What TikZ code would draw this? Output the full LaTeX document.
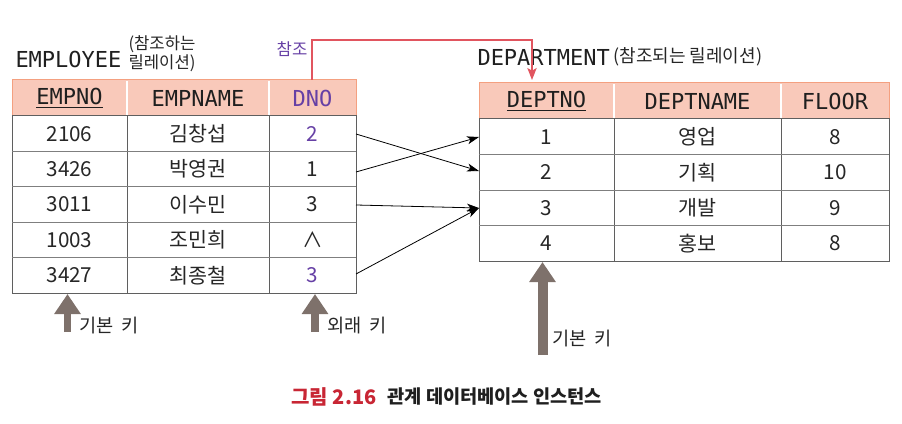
\documentclass[tikz,border=0pt]{standalone}
\usepackage{fontspec}
\setmainfont{Noto Sans CJK KR}
\newfontfamily\codefont{DejaVu Sans Mono}
\usetikzlibrary{arrows.meta}

\definecolor{hdrfill}{RGB}{249,201,186}
\definecolor{hdrline}{RGB}{244,160,128}
\definecolor{keyviolet}{RGB}{102,64,165}
\definecolor{refred}{RGB}{225,85,95}
\definecolor{keygray}{RGB}{126,113,107}
\definecolor{capred}{RGB}{200,38,52}
\definecolor{gridgray}{RGB}{95,95,95}

\tikzset{every picture/.style={line width=0.75pt}}

\begin{document}
\begin{tikzpicture}[x=0.75pt,y=0.75pt,yscale=-1,xscale=1,
  cell/.style={inner sep=0.75pt, font=\fontsize{15.5}{17}\selectfont, text=black!85},
  colhead/.style={inner sep=0.75pt, font=\codefont\fontsize{16.5}{18}\selectfont, text=black!88},
  reltitle/.style={inner sep=0.75pt, font=\codefont\fontsize{16.5}{18}\selectfont, text=black!88},
  note/.style={inner sep=0.75pt, font=\fontsize{12.5}{14}\selectfont, text=black!85},
  keylabel/.style={inner sep=0.75pt, font=\fontsize{14}{16}\selectfont, text=black!85},
  link/.style={-{Stealth[length=9pt,width=6pt,inset=2.5pt]}, line width=0.6pt},
  keyarrow/.style={keygray, line width=5.5pt, -{Triangle[length=15pt,width=19pt]}},
]
\useasboundingbox (0,0) rectangle (902,424);

%Shape: Rectangle [EMPLOYEE header]
\draw [hdrline, fill=hdrfill] (12,80) rectangle (356,116) ;
\draw [white, line width=1.5] (127,81) -- (127,115) (269,81) -- (269,115) ;
%Shape: Rectangle [EMPLOYEE body]
\draw [gridgray] (12,116) rectangle (356,293) ;
\draw [gridgray] (127,116) -- (127,293) (269,116) -- (269,293) ;
\draw [gridgray!80] (12,151.4) -- (356,151.4) (12,186.8) -- (356,186.8) (12,222.2) -- (356,222.2) (12,257.6) -- (356,257.6) ;

%Shape: Rectangle [DEPARTMENT header]
\draw [hdrline, fill=hdrfill] (479,83) rectangle (889,119) ;
\draw [white, line width=1.5] (614,84) -- (614,118) (781,84) -- (781,118) ;
%Shape: Rectangle [DEPARTMENT body]
\draw [gridgray] (479,119) rectangle (889,261) ;
\draw [gridgray] (614,119) -- (614,261) (781,119) -- (781,261) ;
\draw [gridgray!80] (479,154.5) -- (889,154.5) (479,190) -- (889,190) (479,225.5) -- (889,225.5) ;

% Text Node
\draw (14,59) node [anchor=west][reltitle] (emp-title) {EMPLOYEE};
% Text Node
\draw (127,44) node [anchor=west][note] (emp-note1) {(참조하는};
% Text Node
\draw (127,63) node [anchor=west][note] (emp-note2) {릴레이션)};
% Text Node
\draw (476,57) node [anchor=west][reltitle] (dep-title) {DEPARTMENT};
% Text Node
\draw (612,57) node [anchor=west][note, font=\fontsize{13.5}{15}\selectfont] (dep-note) {(참조되는 릴레이션)};
% Text Node
\draw (292,49) node [note, text=keyviolet] (ref-label) {참조};

% Text Node
\draw (69.5,98) node [colhead] (emp-h1) {\underline{EMPNO}};
% Text Node
\draw (198,98) node [colhead] (emp-h2) {EMPNAME};
% Text Node
\draw (312.5,98) node [colhead, text=keyviolet] (emp-h3) {DNO};
% Text Node
\draw (546.5,101) node [colhead] (dep-h1) {\underline{DEPTNO}};
% Text Node
\draw (697.5,101) node [colhead] (dep-h2) {DEPTNAME};
% Text Node
\draw (835,101) node [colhead] (dep-h3) {FLOOR};

% Text Node
\draw (69.5,133.7) node [cell] (emp-1-1) {2106};
\draw (198,133.7) node [cell] (emp-1-2) {김창섭};
\draw (312.5,133.7) node [cell, text=keyviolet] (emp-1-3) {2};
% Text Node
\draw (69.5,169.1) node [cell] (emp-2-1) {3426};
\draw (198,169.1) node [cell] (emp-2-2) {박영권};
\draw (312.5,169.1) node [cell] (emp-2-3) {1};
% Text Node
\draw (69.5,204.5) node [cell] (emp-3-1) {3011};
\draw (198,204.5) node [cell] (emp-3-2) {이수민};
\draw (312.5,204.5) node [cell] (emp-3-3) {3};
% Text Node
\draw (69.5,239.9) node [cell] (emp-4-1) {1003};
\draw (198,239.9) node [cell] (emp-4-2) {조민희};
\draw (312.5,239.9) node [cell] (emp-4-3) {∧};
% Text Node
\draw (69.5,275.3) node [cell] (emp-5-1) {3427};
\draw (198,275.3) node [cell] (emp-5-2) {최종철};
\draw (312.5,275.3) node [cell, text=keyviolet] (emp-5-3) {3};

% Text Node
\draw (546.5,136.8) node [cell] (dep-1-1) {1};
\draw (697.5,136.8) node [cell] (dep-1-2) {영업};
\draw (835,136.8) node [cell] (dep-1-3) {8};
% Text Node
\draw (546.5,172.3) node [cell] (dep-2-1) {2};
\draw (697.5,172.3) node [cell] (dep-2-2) {기획};
\draw (835,172.3) node [cell] (dep-2-3) {10};
% Text Node
\draw (546.5,207.8) node [cell] (dep-3-1) {3};
\draw (697.5,207.8) node [cell] (dep-3-2) {개발};
\draw (835,207.8) node [cell] (dep-3-3) {9};
% Text Node
\draw (546.5,243.3) node [cell] (dep-4-1) {4};
\draw (697.5,243.3) node [cell] (dep-4-2) {홍보};
\draw (835,243.3) node [cell] (dep-4-3) {8};

%Connector ends
\coordinate (dno-top) at (312,80);
\coordinate (deptno-top) at (532,80);
\coordinate (emp-1-out) at (356,134);
\coordinate (emp-2-out) at (356,172);
\coordinate (emp-3-out) at (356,205);
\coordinate (emp-5-out) at (356,274);
\coordinate (dep-1-in) at (479,137);
\coordinate (dep-2-in) at (479,171);
\coordinate (dep-3-in) at (479,208);

%Straight Lines [reference]
\draw [refred, line width=0.9, -{Stealth[length=9pt,width=7pt,inset=2pt]}] (dno-top) |- (422,40) -| (deptno-top) ;
%Straight Lines [foreign key values]
\draw [link] (emp-1-out) -- (dep-2-in) ;
\draw [link] (emp-2-out) -- (dep-1-in) ;
\draw [link] (emp-3-out) -- (dep-3-in) ;
\draw [link] (emp-5-out) -- (dep-3-in) ;

%Key arrows
\coordinate (pk1-tail) at (67.5,332);
\coordinate (pk1-tip) at (67.5,294);
\coordinate (fk-tail) at (315,332);
\coordinate (fk-tip) at (315,294);
\coordinate (pk2-tail) at (542.5,355);
\coordinate (pk2-tip) at (542.5,262);
\draw [keyarrow] (pk1-tail) -- (pk1-tip) ;
\draw [keyarrow] (fk-tail) -- (fk-tip) ;
\draw [keyarrow, line width=7.5pt] (pk2-tail) -- (pk2-tip) ;

% Text Node
\draw (78,326) node [anchor=west][keylabel] (pk1-label) {기본\hspace{0.2em} 키};
% Text Node
\draw (326,326) node [anchor=west][keylabel] (fk-label) {외래\hspace{0.2em} 키};
% Text Node
\draw (551,339) node [anchor=west][keylabel] (pk2-label) {기본\hspace{0.2em} 키};

% Text Node
\draw (378,397) node [anchor=east][inner sep=0.75pt] [font=\fontsize{15}{17}\selectfont\bfseries, text=capred] (fig-no) {그림 2.16};
% Text Node
\draw (386,397) node [anchor=west][inner sep=0.75pt] [font=\fontsize{14}{16}\selectfont\bfseries, text=black!88] (fig-title) {관계 데이터베이스 인스턴스};
\end{tikzpicture}
\end{document}
